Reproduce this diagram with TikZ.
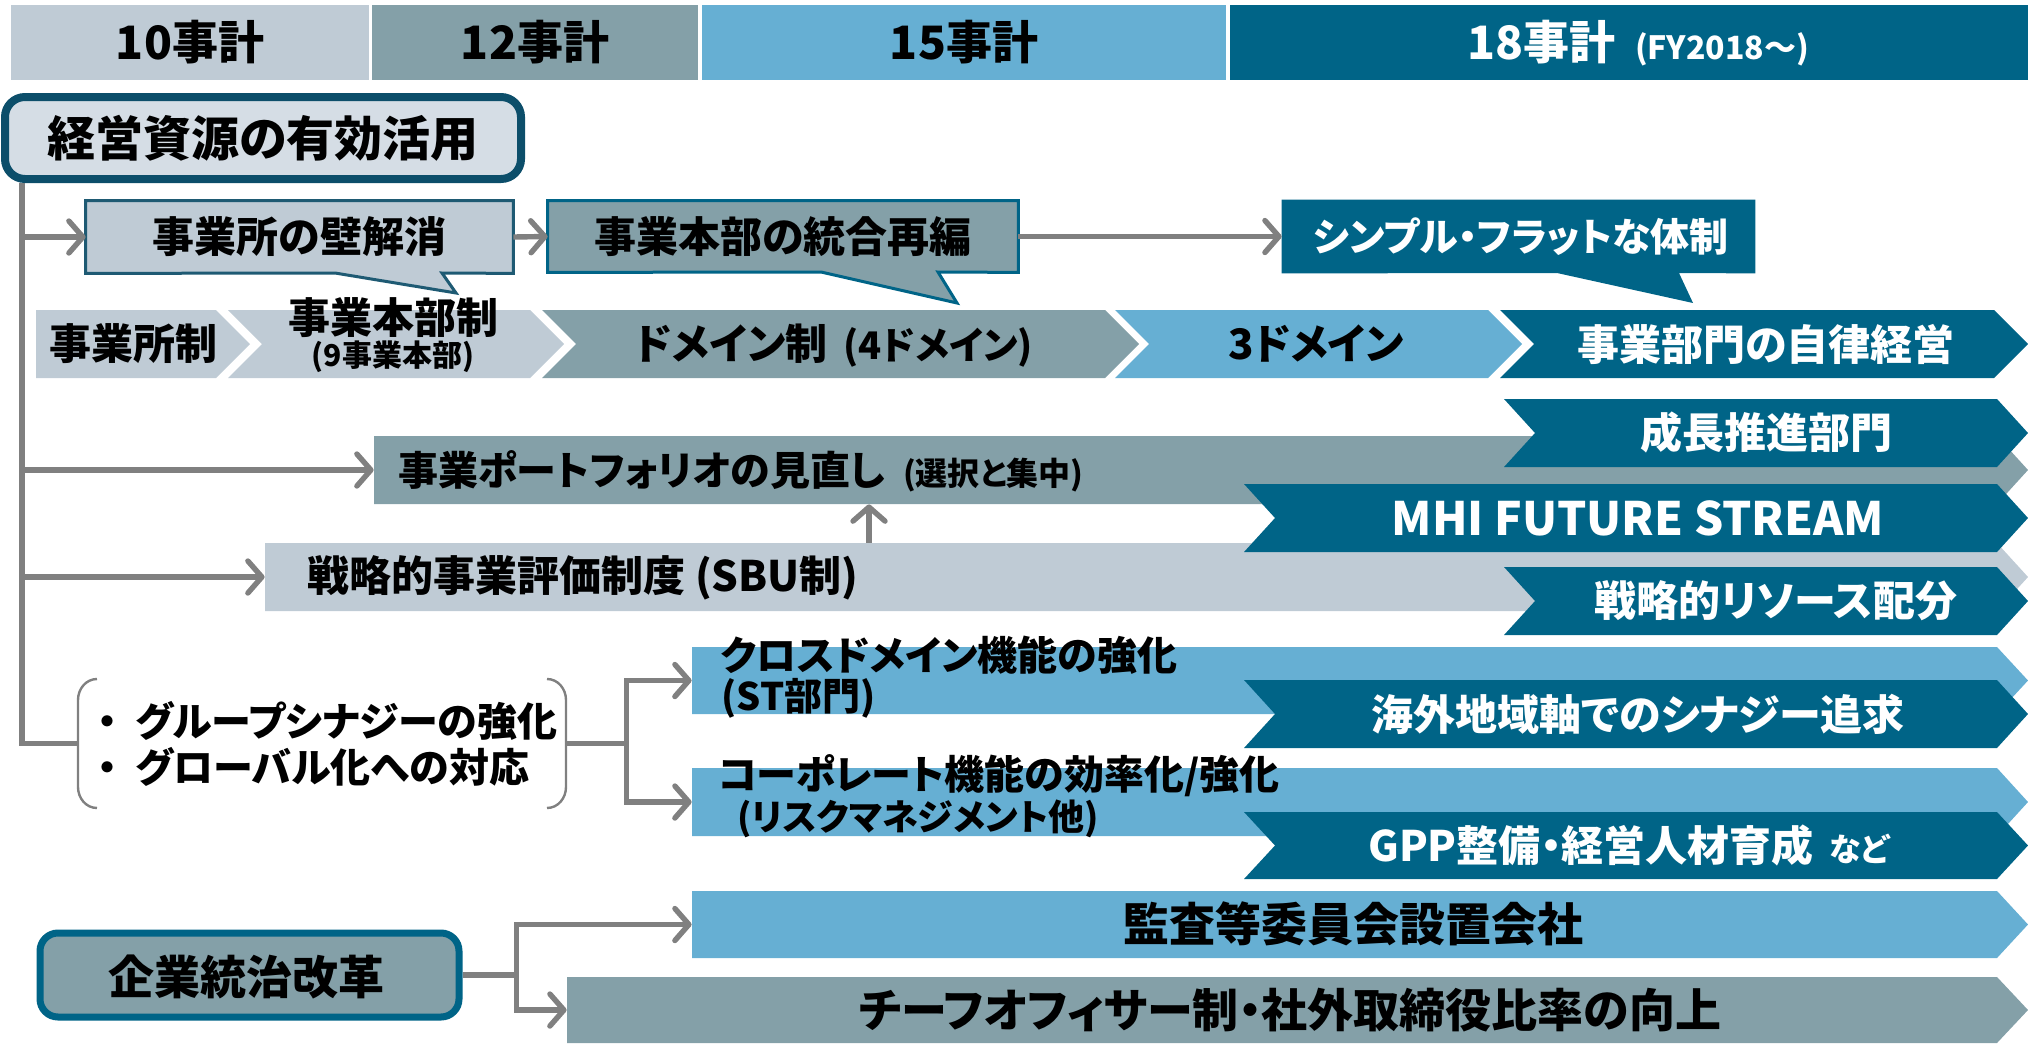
\documentclass[tikz,border=0pt]{standalone}
\usepackage{fontspec}
\setmainfont{Noto Sans CJK JP}[RawFeature=+palt]
\usetikzlibrary{arrows.meta,fit,backgrounds}
\definecolor{cLight}{RGB}{191,203,213}
\definecolor{cGray}{RGB}{132,160,168}
\definecolor{cBlue}{RGB}{102,175,211}
\definecolor{cDark}{RGB}{0,100,135}
\definecolor{cBoxFill}{RGB}{213,221,229}
\definecolor{cBoxLine}{RGB}{12,78,106}
\definecolor{cArr}{RGB}{128,128,128}
\definecolor{cWallLine}{RGB}{30,90,115}
\newcommand\fs[1]{\fontsize{#1pt}{#1pt}\selectfont\bfseries}
% name, x1, y1, x2(point), y2, depth, notch, colour
\newcommand\mkchev[8]{%
  \fill[#8] (#2,#3) -- ({#4-#6},#3) -- (#4,{(#3+#5)/2}) -- ({#4-#6},#5) -- (#2,#5) -- ({#2+#7},{(#3+#5)/2}) -- cycle;
  \node[fit={(#2,#3) (#4,#5)}, inner sep=0pt] (#1) {};}
\tikzset{
  arr/.style={draw=cArr, line width=2.7pt, -{Straight Barb[length=7pt,width=16pt,round]}},
  lnk/.style={draw=cArr, line width=2.7pt},
  box/.style={inner sep=0pt},
  lbl/.style={inner sep=0pt, font=\fs{21}},
  wlbl/.style={inner sep=0pt, font=\fs{21}, text=white},
  brkline/.style={draw=cArr, line width=1.2pt},
}
\begin{document}
\begin{tikzpicture}[x=0.5pt,y=-0.5pt]
\useasboundingbox (0,0) rectangle (2028,1044);

% header
\node[box, fill=cLight, fit={(11,5) (369,80)}] (h10) {};
\node[box, fill=cGray, fit={(372,5) (698,80)}] (h12) {};
\node[box, fill=cBlue, fit={(702,5) (1226,80)}] (h15) {};
\node[box, fill=cDark, fit={(1230,5) (2028,80)}] (h18) {};
\node[inner sep=0pt, font=\fs{23}] (h10T) at (h10.center) {10事計};
\node[inner sep=0pt, font=\fs{23}] (h12T) at (h12.center) {12事計};
\node[inner sep=0pt, font=\fs{23}] (h15T) at (h15.center) {15事計};
\node[inner sep=0pt, font=\fs{23}, text=white] (h18T) at (1638,43) {18事計\hspace{10pt}{\fs{16}(FY2018～)}};

% main box
\node[box, fit={(5,97) (521,179)}, draw=cBoxLine, fill=cBoxFill, line width=4pt, rounded corners=10pt] (res) {};
\node[inner sep=0pt, font=\fs{24}] (resT) at (263,138) {経営資源の有効活用};

% callouts
\node[box, fit={(86,201) (513,273)}] (wall) {};
\node[box, fit={(548,201) (1018,272)}] (merge) {};
\node[box, fit={(1282,200) (1755,273)}] (simple) {};
\begin{scope}[on background layer]
\draw[fill=cLight, draw=cWallLine, line width=1.5pt] (wall.north west) -- (wall.north east) -- (wall.south east) -- (442,273) -- (456,293) -- (335,273) -- (wall.south west) -- cycle;
\draw[fill=cGray, draw=cDark, line width=1.5pt] (merge.north west) -- (merge.north east) -- (merge.south east) -- (938,272) -- (957,303) -- (821,272) -- (merge.south west) -- cycle;
\fill[cDark] (simple.north west) -- (simple.north east) -- (simple.south east) -- (1679,273) -- (1693,303) -- (1557,273) -- (simple.south west) -- cycle;
\end{scope}
\node[lbl] (wallT) at (wall.center) {事業所の壁解消};
\node[lbl] (mergeT) at (783,237) {事業本部の統合再編};
\node[wlbl, font=\fs{19.5}] (simpleT) at (1521,237) {シンプル・フラットな体制};

% chevron row
\mkchev{c1}{36}{310}{250}{378}{34}{0}{cLight}
\mkchev{c2}{228}{310}{564}{378}{34}{34}{cLight}
\mkchev{c3}{542}{310}{1139}{378}{34}{34}{cGray}
\mkchev{c4}{1115}{310}{1522}{378}{34}{34}{cBlue}
\mkchev{c5}{1500}{310}{2028}{378}{34}{34}{cDark}
\node[lbl] (c1T) at (133,344) {事業所制};
\node[lbl] (c2T) at (393,318) {事業本部制};
\node[inner sep=0pt, font=\fs{15}] (c2S) at (393,357) {(9事業本部)};
\node[lbl] (c3T) at (834,346) {ドメイン制\hspace{8pt}{\fs{19}(4ドメイン)}};
\node[lbl] (c4T) at (1316,344) {3ドメイン};
\node[wlbl] (c5T) at (1766,344) {事業部門の自律経営};

% long bars
\mkchev{port}{374}{436}{2028}{504}{31}{0}{cGray}
\mkchev{sbu}{265}{543}{2028}{611}{31}{0}{cLight}
\mkchev{cross}{692}{647}{2028}{714}{31}{0}{cBlue}
\mkchev{corp}{692}{768}{2028}{836}{31}{0}{cBlue}
\mkchev{audit}{692}{891}{2028}{958}{31}{0}{cBlue}
\mkchev{chief}{567}{977}{2028}{1043}{31}{0}{cGray}
\node[inner sep=0pt, font=\fs{20}, anchor=west] (portT) at (398,471) {事業ポートフォリオの見直し\hspace{9pt}{\fs{16}(選択と集中)}};
\node[lbl, anchor=west] (sbuT) at (307,578) {戦略的事業評価制度 (SBU制)};
\node[inner sep=0pt, font=\fs{20}, anchor=west] (crossT1) at (720,655) {クロスドメイン機能の強化};
\node[inner sep=0pt, font=\fs{19}, anchor=west] (crossT2) at (721,698) {(ST部門)};
\node[inner sep=0pt, font=\fs{20}, anchor=west] (corpT1) at (718,776) {コーポレート機能の効率化/強化};
\node[inner sep=0pt, font=\fs{18}, anchor=west] (corpT2) at (737,819) {(リスクマネジメント他)};
\node[inner sep=0pt, font=\fs{23}] (auditT) at (1353,924) {監査等委員会設置会社};
\node[inner sep=0pt, font=\fs{23}] (chiefT) at (1290,1010) {チーフオフィサー制・社外取締役比率の向上};

% dark chevrons on the right
\mkchev{growth}{1504}{399}{2028}{467}{31}{31}{cDark}
\mkchev{mhi}{1244}{484}{2028}{552}{31}{31}{cDark}
\mkchev{resrc}{1504}{567}{2028}{635}{31}{31}{cDark}
\mkchev{oversea}{1244}{680}{2028}{748}{31}{31}{cDark}
\mkchev{gpp}{1244}{812}{2028}{879}{31}{31}{cDark}
\node[wlbl] (growthT) at (1766,432) {成長推進部門};
\node[wlbl, font=\fs{23}] (mhiT) at (1638,518) {MHI FUTURE STREAM};
\node[wlbl] (resrcT) at (1776,601) {戦略的リソース配分};
\node[wlbl] (overseaT) at (1638,714) {海外地域軸でのシナジー追求};
\node[wlbl] (gppT) at (1629,845) {GPP整備・経営人材育成\hspace{8pt}{\fs{16}など}};

% bracket
\node[box, fit={(78,679) (566,808)}] (brk) {};
\draw[brkline] (97,679) to[out=180,in=90] (78,700) -- (78,787) to[out=-90,in=180] (97,808);
\draw[brkline] (547,679) to[out=0,in=90] (566,700) -- (566,787) to[out=-90,in=0] (547,808);
\node[inner sep=0pt, font=\fs{20}, anchor=west] (brkT1) at (97,721) {・\hspace{9pt}グループシナジーの強化};
\node[inner sep=0pt, font=\fs{20}, anchor=west] (brkT2) at (97,767) {・\hspace{9pt}グローバル化への対応};

% governance box
\node[box, fit={(40,933) (459,1017)}, draw=cDark, fill=cGray, line width=3.5pt, rounded corners=9pt] (gov) {};
\node[inner sep=0pt, font=\fs{23}] (govT) at (246,977) {企業統治改革};

% connectors
\coordinate (tkx) at (22,0);
\coordinate (upx) at (869,0);
\begin{scope}[on background layer]
\draw[lnk] (res.south -| tkx) |- (brk.west);
\draw[arr] (tkx |- wall.west) -- (wall.west);
\draw[arr] (tkx |- port.west) -- (port.west);
\draw[arr] (tkx |- sbu.west) -- (sbu.west);
\draw[arr] (wall.east) -- (merge.west);
\draw[arr] (merge.east) -- (simple.west);
\draw[arr] (upx |- sbu.north) -- (upx |- port.south);
\draw[lnk] (brk.east) -- ++(60,0) coordinate (bj);
\draw[arr] (bj) |- (cross.west);
\draw[arr] (bj) |- (corp.west);
\draw[lnk] (gov.east) -- ++(54,0) coordinate (gj);
\draw[arr] (gj) |- (audit.west);
\draw[arr] (gj) |- (chief.west);
\end{scope}
\end{tikzpicture}
\end{document}
